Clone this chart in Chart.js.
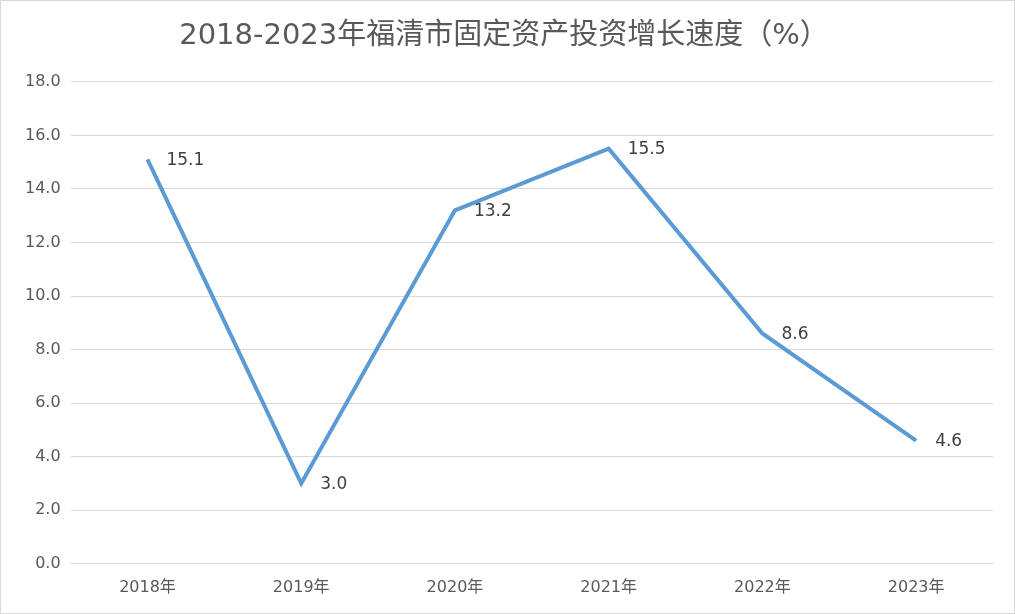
<!DOCTYPE html>
<html><head><meta charset="utf-8">
<script src="https://cdn.jsdelivr.net/npm/chart.js@4"></script>
<style>html,body{margin:0;padding:0;background:#fff}
#w{position:absolute;left:0;top:0;width:1013px;height:612px;border:1px solid #d9d9d9}</style>
</head><body><div id="w"><canvas id="c"></canvas></div>
<script>
const categories=["2018年","2019年","2020年","2021年","2022年","2023年"];
const growth=[15.1,3.0,13.2,15.5,8.6,4.6];
const yTicks=[0,2,4,6,8,10,12,14,16,18];
const font="'DejaVu Sans','Noto Sans CJK SC',sans-serif";
const labels={id:'lbl',afterDatasetsDraw(ch){const c=ch.ctx;const m=ch.getDatasetMeta(0);
c.save();c.font="17px "+font;c.fillStyle="#404040";c.textBaseline="middle";
m.data.forEach((p,i)=>{c.fillText(growth[i].toFixed(1),p.x+19,p.y+1);});c.restore();}};
new Chart(document.getElementById('c'),{type:'line',
data:{labels:categories,datasets:[{data:growth,borderColor:'#5b9bd5',borderWidth:4,pointRadius:0,tension:0,fill:false}]},
options:{responsive:true,maintainAspectRatio:false,animation:false,
layout:{padding:{left:14,right:21,top:8,bottom:10}},
plugins:{legend:{display:false},tooltip:{enabled:false},
title:{display:true,text:'2018-2023年福清市固定资产投资增长速度（%）',color:'#595959',font:{family:font,size:29,weight:'normal'},padding:{top:10,bottom:28}}},
scales:{x:{offset:true,grid:{display:false},border:{color:'#d9d9d9'},ticks:{color:'#595959',font:{family:font,size:16},padding:6}},
y:{min:0,max:18,afterBuildTicks:a=>{a.ticks=yTicks.map(v=>({value:v}));},
grid:{color:'#d9d9d9',drawTicks:false},border:{display:false},
ticks:{color:'#595959',font:{family:font,size:16},padding:10,callback:v=>v.toFixed(1)}}}},
plugins:[labels]});
</script></body></html>
